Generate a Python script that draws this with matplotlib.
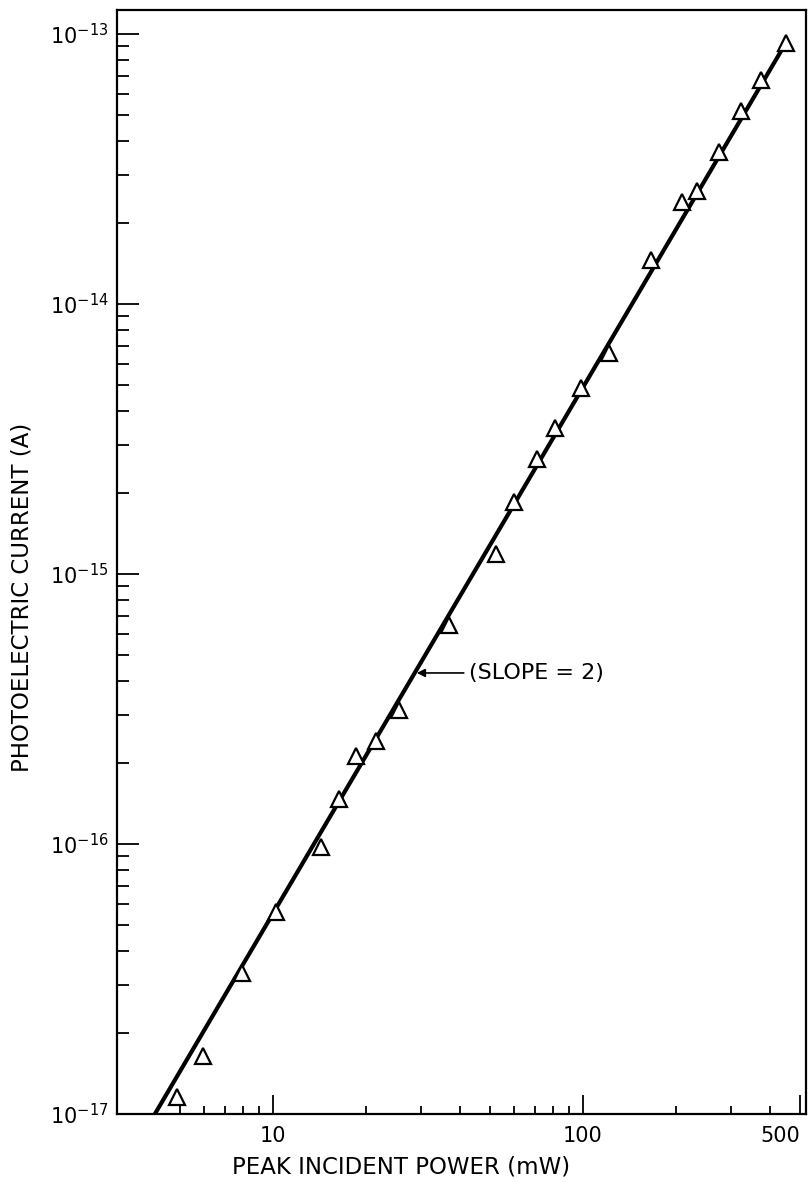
import matplotlib
matplotlib.use("Agg")
import matplotlib.pyplot as plt
from matplotlib.ticker import FixedLocator, NullFormatter

# Data
power_mw = [4.91, 5.96, 7.96, 10.2, 14.25, 16.3, 18.5, 21.5, 25.5, 37.0,
            52.4, 60.0, 71.2, 81.2, 98.5, 121.6, 165.7, 208.2, 232.7,
            274.7, 322.6, 374.3, 450.6]
current_a = [1.16e-17, 1.64e-17, 3.34e-17, 5.61e-17, 9.77e-17, 1.47e-16,
             2.12e-16, 2.41e-16, 3.13e-16, 6.47e-16, 1.19e-15, 1.84e-15,
             2.66e-15, 3.47e-15, 4.88e-15, 6.61e-15, 1.45e-14, 2.39e-14,
             2.61e-14, 3.66e-14, 5.20e-14, 6.76e-14, 9.29e-14]
fit_x = [4.16, 452.0]
fit_y = [1.0e-17, 9.3e-14]
arrow_xy = [29.1, 4.3e-16]
x_ticks = [10, 100, 500]
x_ticklabels = ["10", "100", "500"]
x_minor = [5, 6, 7, 8, 9, 20, 30, 40, 50, 60, 70, 80, 90, 200, 300, 400]
y_ticks = [1e-17, 1e-16, 1e-15, 1e-14, 1e-13]
y_ticklabels = [r"$10^{-17}$", r"$10^{-16}$", r"$10^{-15}$", r"$10^{-14}$", r"$10^{-13}$"]

fig = plt.figure(figsize=(8.1, 11.82), dpi=100)
ax = fig.add_axes([117/810, 1 - 1114/1182, (806-117)/810, (1114-10)/1182])

ax.plot(fit_x, fit_y, color="black", lw=3.0, zorder=2, solid_capstyle="butt")
ax.plot(power_mw, current_a, linestyle="none", marker="^", ms=11,
        mfc="white", mec="black", mew=1.6, zorder=3)

ax.set_xscale("log")
ax.set_yscale("log")
ax.set_xlim(3.14, 524)
ax.set_ylim(1.0e-17, 1.227e-13)

ax.xaxis.set_major_locator(FixedLocator(x_ticks))
ax.set_xticklabels(x_ticklabels)
ax.xaxis.set_minor_locator(FixedLocator(x_minor))
ax.xaxis.set_minor_formatter(NullFormatter())

minor_y = []
for dec in [-17, -16, -15, -14]:
    for m in range(2, 10):
        minor_y.append(m * 10.0 ** dec)
ax.yaxis.set_major_locator(FixedLocator(y_ticks))
ax.set_yticklabels(y_ticklabels)
ax.yaxis.set_minor_locator(FixedLocator(minor_y))
ax.yaxis.set_minor_formatter(NullFormatter())

ax.tick_params(axis="x", which="major", direction="in", length=14, width=1.3,
               labelsize=15, pad=9)
ax.tick_params(axis="x", which="minor", direction="in", length=6, width=1.3)
ax.tick_params(axis="y", which="major", direction="in", length=16, width=1.3,
               labelsize=15, pad=6)
ax.tick_params(axis="y", which="minor", direction="in", length=8.5, width=1.3)

# keep the "500" label inside the figure, as in the reference
xlabels = ax.get_xticklabels()
xlabels[-1].set_horizontalalignment("right")

for s in ax.spines.values():
    s.set_linewidth(1.6)

ax.annotate("(SLOPE = 2)", xy=arrow_xy, xytext=(43.0, arrow_xy[1]),
            fontsize=16, va="center", ha="left",
            arrowprops=dict(arrowstyle="-|>", color="black", lw=1.2,
                            mutation_scale=12, shrinkA=2, shrinkB=0))

fig.text(401/810, 1 - 1167/1182, "PEAK INCIDENT POWER (mW)", fontsize=16.5,
         ha="center", va="center")
fig.text(22/810, 1 - 597/1182, "PHOTOELECTRIC CURRENT (A)", fontsize=16.5,
         ha="center", va="center", rotation=90)

fig.savefig("out.png", dpi=100)
